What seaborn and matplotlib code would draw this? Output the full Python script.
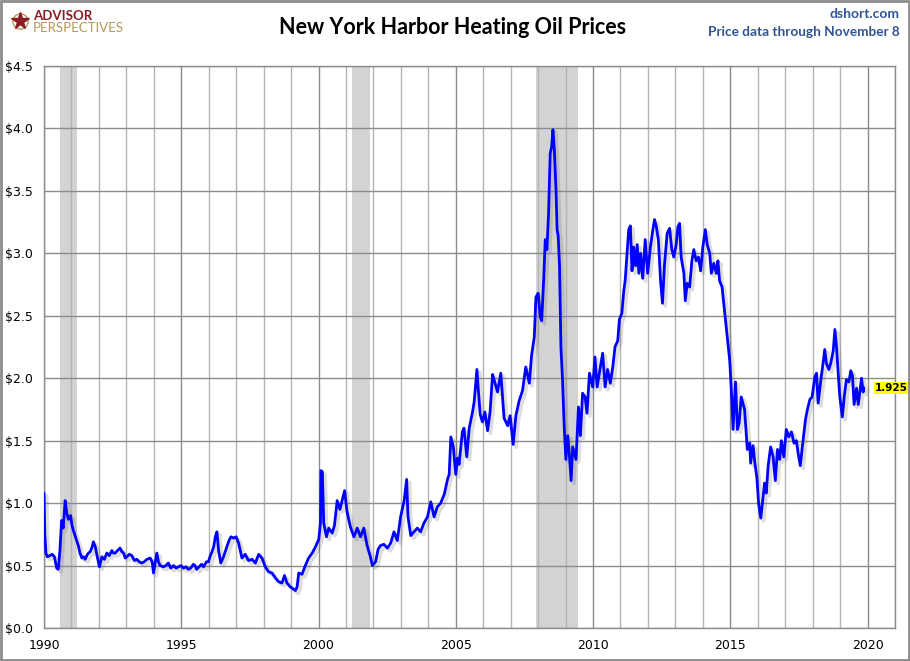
import matplotlib
matplotlib.use("Agg")
import matplotlib.pyplot as plt
import matplotlib.patheffects as pe
from matplotlib.patches import Rectangle
from matplotlib.lines import Line2D
from matplotlib.ticker import MultipleLocator, FuncFormatter
import seaborn as sns
import pandas as pd

# ------------------------------------------
# Data (decimal years)
# ------------------------------------------
years = [
    1990.00, 1990.03, 1990.07, 1990.12, 1990.22, 1990.30, 1990.38, 1990.46, 1990.52,
    1990.58, 1990.64, 1990.70, 1990.77, 1990.83, 1990.89, 1990.97, 1991.02, 1991.07,
    1991.13, 1991.19, 1991.25, 1991.31, 1991.38, 1991.44, 1991.50, 1991.56, 1991.62,
    1991.68, 1991.74, 1991.80, 1991.87, 1991.93, 1992.02, 1992.11, 1992.20, 1992.29,
    1992.38, 1992.47, 1992.53, 1992.59, 1992.68, 1992.77, 1992.84, 1992.90, 1992.96,
    1993.02, 1993.11, 1993.20, 1993.29, 1993.38, 1993.47, 1993.56, 1993.65, 1993.75,
    1993.87, 1993.94, 1993.99, 1994.05, 1994.11, 1994.17, 1994.23, 1994.35, 1994.44,
    1994.53, 1994.62, 1994.72, 1994.81, 1994.90, 1994.99, 1995.08, 1995.17, 1995.26,
    1995.35, 1995.44, 1995.50, 1995.56, 1995.65, 1995.74, 1995.81, 1995.92, 1995.99,
    1996.06, 1996.12, 1996.18, 1996.24, 1996.30, 1996.36, 1996.44, 1996.54, 1996.66,
    1996.74, 1996.81, 1996.91, 1997.00, 1997.09, 1997.21, 1997.33, 1997.45, 1997.58,
    1997.70, 1997.82, 1997.94, 1998.06, 1998.18, 1998.31, 1998.43, 1998.55, 1998.67,
    1998.76, 1998.85, 1998.97, 1999.10, 1999.16, 1999.22, 1999.28, 1999.40, 1999.52,
    1999.64, 1999.77, 1999.89, 2000.01, 2000.07, 2000.09, 2000.14, 2000.19, 2000.29,
    2000.37, 2000.50, 2000.58, 2000.68, 2000.78, 2000.86, 2000.95, 2001.04, 2001.16,
    2001.29, 2001.41, 2001.53, 2001.65, 2001.77, 2001.89, 2001.96, 2002.08, 2002.17,
    2002.26, 2002.38, 2002.51, 2002.63, 2002.75, 2002.87, 2002.99, 2003.12, 2003.21,
    2003.26, 2003.36, 2003.48, 2003.60, 2003.72, 2003.84, 2003.97, 2004.09, 2004.21,
    2004.33, 2004.45, 2004.58, 2004.70, 2004.76, 2004.82, 2004.91, 2005.00, 2005.06,
    2005.12, 2005.24, 2005.30, 2005.40, 2005.49, 2005.61, 2005.67, 2005.77, 2005.82,
    2005.89, 2005.97, 2006.06, 2006.16, 2006.25, 2006.34, 2006.42, 2006.52, 2006.64,
    2006.76, 2006.89, 2006.98, 2007.09, 2007.19, 2007.31, 2007.43, 2007.55, 2007.68,
    2007.76, 2007.86, 2007.92, 2008.00, 2008.08, 2008.13, 2008.20, 2008.26, 2008.32,
    2008.38, 2008.44, 2008.49, 2008.54, 2008.59, 2008.65, 2008.69, 2008.73, 2008.78,
    2008.83, 2008.89, 2008.95, 2009.01, 2009.08, 2009.14, 2009.20, 2009.26, 2009.32,
    2009.38, 2009.47, 2009.54, 2009.62, 2009.71, 2009.78, 2009.87, 2009.93, 2009.99,
    2010.07, 2010.15, 2010.23, 2010.35, 2010.44, 2010.53, 2010.63, 2010.72, 2010.80,
    2010.90, 2010.96, 2011.05, 2011.12, 2011.17, 2011.24, 2011.30, 2011.36, 2011.42,
    2011.48, 2011.55, 2011.61, 2011.67, 2011.73, 2011.81, 2011.90, 2011.99, 2012.09,
    2012.18, 2012.24, 2012.30, 2012.38, 2012.46, 2012.53, 2012.60, 2012.70, 2012.79,
    2012.87, 2012.94, 2013.03, 2013.09, 2013.15, 2013.21, 2013.31, 2013.36, 2013.43,
    2013.52, 2013.60, 2013.67, 2013.76, 2013.84, 2013.92, 2014.00, 2014.09, 2014.16,
    2014.25, 2014.31, 2014.40, 2014.49, 2014.55, 2014.61, 2014.70, 2014.79, 2014.89,
    2014.98, 2015.04, 2015.10, 2015.19, 2015.26, 2015.32, 2015.40, 2015.52, 2015.62,
    2015.71, 2015.74, 2015.83, 2015.89, 2015.97, 2016.03, 2016.11, 2016.17, 2016.25,
    2016.31, 2016.38, 2016.47, 2016.56, 2016.64, 2016.72, 2016.80, 2016.86, 2016.95,
    2017.04, 2017.13, 2017.23, 2017.32, 2017.41, 2017.47, 2017.55, 2017.65, 2017.74,
    2017.81, 2017.90, 2017.98, 2018.08, 2018.14, 2018.20, 2018.29, 2018.35, 2018.44,
    2018.50, 2018.59, 2018.66, 2018.75, 2018.81, 2018.87, 2018.93, 2018.99, 2019.08,
    2019.15, 2019.23, 2019.32, 2019.39, 2019.45, 2019.51, 2019.60, 2019.66, 2019.72,
    2019.78, 2019.84, 2019.86,
]
prices = [
    1.08, 0.75, 0.60, 0.57, 0.58, 0.59, 0.57, 0.48, 0.47,
    0.62, 0.86, 0.80, 1.02, 0.92, 0.87, 0.90, 0.82, 0.78,
    0.74, 0.70, 0.66, 0.60, 0.56, 0.57, 0.55, 0.58, 0.60,
    0.61, 0.64, 0.69, 0.65, 0.58, 0.49, 0.57, 0.55, 0.60,
    0.58, 0.62, 0.60, 0.60, 0.62, 0.64, 0.61, 0.60, 0.56,
    0.57, 0.59, 0.58, 0.54, 0.55, 0.53, 0.52, 0.53, 0.55,
    0.56, 0.53, 0.44, 0.52, 0.60, 0.53, 0.50, 0.49, 0.50,
    0.52, 0.48, 0.50, 0.48, 0.49, 0.50, 0.48, 0.49, 0.47,
    0.48, 0.51, 0.50, 0.47, 0.49, 0.51, 0.49, 0.53, 0.53,
    0.58, 0.61, 0.65, 0.73, 0.77, 0.62, 0.52, 0.57, 0.65,
    0.70, 0.73, 0.72, 0.73, 0.68, 0.56, 0.59, 0.54, 0.55,
    0.52, 0.59, 0.56, 0.49, 0.45, 0.44, 0.40, 0.37, 0.36,
    0.42, 0.36, 0.33, 0.31, 0.30, 0.33, 0.44, 0.43, 0.50,
    0.56, 0.60, 0.65, 0.71, 0.84, 1.26, 1.25, 0.84, 0.73,
    0.80, 0.76, 0.82, 1.02, 0.95, 1.02, 1.10, 0.93, 0.81,
    0.73, 0.80, 0.73, 0.80, 0.66, 0.57, 0.50, 0.53, 0.63,
    0.66, 0.67, 0.64, 0.68, 0.77, 0.70, 0.89, 1.02, 1.19,
    0.89, 0.74, 0.77, 0.80, 0.77, 0.84, 0.89, 1.01, 0.89,
    0.97, 1.00, 1.07, 1.19, 1.23, 1.53, 1.45, 1.23, 1.36,
    1.31, 1.57, 1.60, 1.37, 1.60, 1.73, 1.81, 2.07, 1.91,
    1.71, 1.65, 1.73, 1.58, 1.73, 2.03, 1.97, 1.89, 2.04,
    1.68, 1.62, 1.70, 1.47, 1.70, 1.82, 1.90, 2.09, 1.96,
    2.18, 2.33, 2.65, 2.68, 2.49, 2.46, 2.78, 3.11, 3.03,
    3.32, 3.80, 3.85, 3.99, 3.83, 3.51, 3.19, 3.14, 2.90,
    2.25, 1.98, 1.61, 1.35, 1.54, 1.38, 1.18, 1.45, 1.40,
    1.35, 1.77, 1.54, 1.88, 1.85, 1.72, 2.04, 1.98, 1.93,
    2.17, 1.93, 2.04, 2.20, 1.93, 2.07, 1.96, 2.09, 2.25,
    2.30, 2.47, 2.52, 2.70, 2.78, 3.00, 3.19, 3.22, 2.86,
    3.05, 2.90, 3.07, 2.84, 3.00, 2.80, 3.11, 2.84, 3.05,
    3.19, 3.27, 3.22, 3.11, 2.78, 2.60, 2.90, 3.16, 3.20,
    3.03, 2.97, 3.07, 3.21, 3.24, 2.97, 2.84, 2.62, 2.76,
    2.73, 2.94, 3.03, 2.94, 2.97, 2.86, 3.05, 3.19, 3.07,
    3.00, 2.84, 2.92, 2.84, 2.94, 2.78, 2.73, 2.54, 2.33,
    2.14, 1.90, 1.59, 1.97, 1.59, 1.64, 1.85, 1.75, 1.43,
    1.48, 1.32, 1.46, 1.33, 1.20, 1.00, 0.88, 1.00, 1.16,
    1.08, 1.30, 1.45, 1.37, 1.18, 1.43, 1.35, 1.50, 1.37,
    1.59, 1.53, 1.57, 1.48, 1.50, 1.40, 1.30, 1.50, 1.67,
    1.75, 1.83, 1.85, 2.01, 2.04, 1.80, 1.97, 2.07, 2.23,
    2.12, 2.07, 2.12, 2.22, 2.39, 2.25, 2.04, 1.85, 1.69,
    1.85, 1.99, 1.97, 2.06, 2.02, 1.79, 1.92, 1.79, 1.89,
    2.00, 1.89, 1.925,
]
recession_starts = [1990.58, 2001.21, 2007.92]
recession_ends = [1991.21, 2001.88, 2009.46]

title = "New York Harbor Heating Oil Prices"
source_lines = ["dshort.com", "Price data through November 8"]

df = pd.DataFrame({"year": years, "price": prices})

# ------------------------------------------
# Style
# ------------------------------------------
sns.set_theme(style="whitegrid")
plt.rcParams["font.family"] = ["DejaVu Sans"]

fig = plt.figure(figsize=(9.1, 6.61), dpi=100)
ax = fig.add_axes([44 / 910, 33 / 661, 851 / 910, 562 / 661])
ax.set_facecolor("white")

for s, e in zip(recession_starts, recession_ends):
    ax.axvspan(s, e, color="#d3d3d3", lw=0, zorder=0.1)

sns.lineplot(data=df, x="year", y="price", ax=ax, color="#0000ff", lw=2.0,
             sort=False, zorder=3)
ax.lines[0].set_path_effects([
    pe.SimpleLineShadow(offset=(2, -2), shadow_color="#666666", alpha=0.22, linewidth=2.6),
    pe.Normal(),
])

ax.set_xlim(1990, 2021)
ax.set_ylim(0, 4.5)
ax.xaxis.set_major_locator(MultipleLocator(5))
ax.xaxis.set_minor_locator(MultipleLocator(1))
ax.yaxis.set_major_locator(MultipleLocator(0.5))
ax.yaxis.set_major_formatter(FuncFormatter(lambda v, p: f"${v:.1f}"))
ax.set_axisbelow(True)
ax.grid(which="major", color="#8c8c8c", lw=1.0)
ax.grid(which="minor", axis="x", color="#b4b4b4", lw=1.0)
ax.tick_params(axis="both", which="major", length=5, width=1, color="#8c8c8c",
               direction="out", labelsize=9, labelcolor="black", pad=3)
ax.tick_params(axis="x", which="minor", length=0)
ax.set_xlabel("")
ax.set_ylabel("")
for sp in ax.spines.values():
    sp.set_color("#8c8c8c")
    sp.set_linewidth(1.0)

# end-of-series label
ax.annotate(f"{prices[-1]:.3f}", xy=(years[-1], prices[-1]), xytext=(8, 0),
            textcoords="offset points", va="center", ha="left", fontsize=7.5,
            fontweight="bold", color="black", annotation_clip=False,
            bbox=dict(boxstyle="square,pad=0.1", fc="#ffff00", ec="none"))

# titles and branding
fig.text(453 / 910, 1 - 27 / 661, title, ha="center", va="center",
         fontsize=15.5, fontweight="bold", family=["Lato", "DejaVu Sans"], color="black")
fig.text(900 / 910, 1 - 14 / 661, source_lines[0], ha="right", va="center",
         fontsize=10, fontweight="bold", family=["Lato", "DejaVu Sans"], color="#2f5597")
fig.text(900 / 910, 1 - 32 / 661, source_lines[1], ha="right", va="center",
         fontsize=9.8, fontweight="bold", family=["Lato", "DejaVu Sans"], color="#2f5597")
fig.text(33 / 910, 1 - 20.5 / 661, "ADVISOR", ha="left", va="baseline",
         fontsize=9.5, fontweight="bold", family=["Lato", "DejaVu Sans"], color="#8b1c24")
fig.text(33 / 910, 1 - 32.5 / 661, "PERSPECTIVES", ha="left", va="baseline",
         fontsize=9.5, family=["Lato", "DejaVu Sans"], color="#b8975a")
fig.add_artist(Line2D([20 / 910], [1 - 21 / 661], marker="o", ms=11, mfc="none",
                      mec="#b8975a", mew=1, transform=fig.transFigure))
fig.add_artist(Line2D([20 / 910], [1 - 21 / 661], marker="*", ms=13, color="#8b1c24",
                      transform=fig.transFigure))

# outer frame
fig.add_artist(Rectangle((0.001, 0.001), 0.998, 0.997, transform=fig.transFigure,
                         fill=False, ec="#8c8c8c", lw=2))

fig.savefig("out.png", dpi=100, facecolor="white")
